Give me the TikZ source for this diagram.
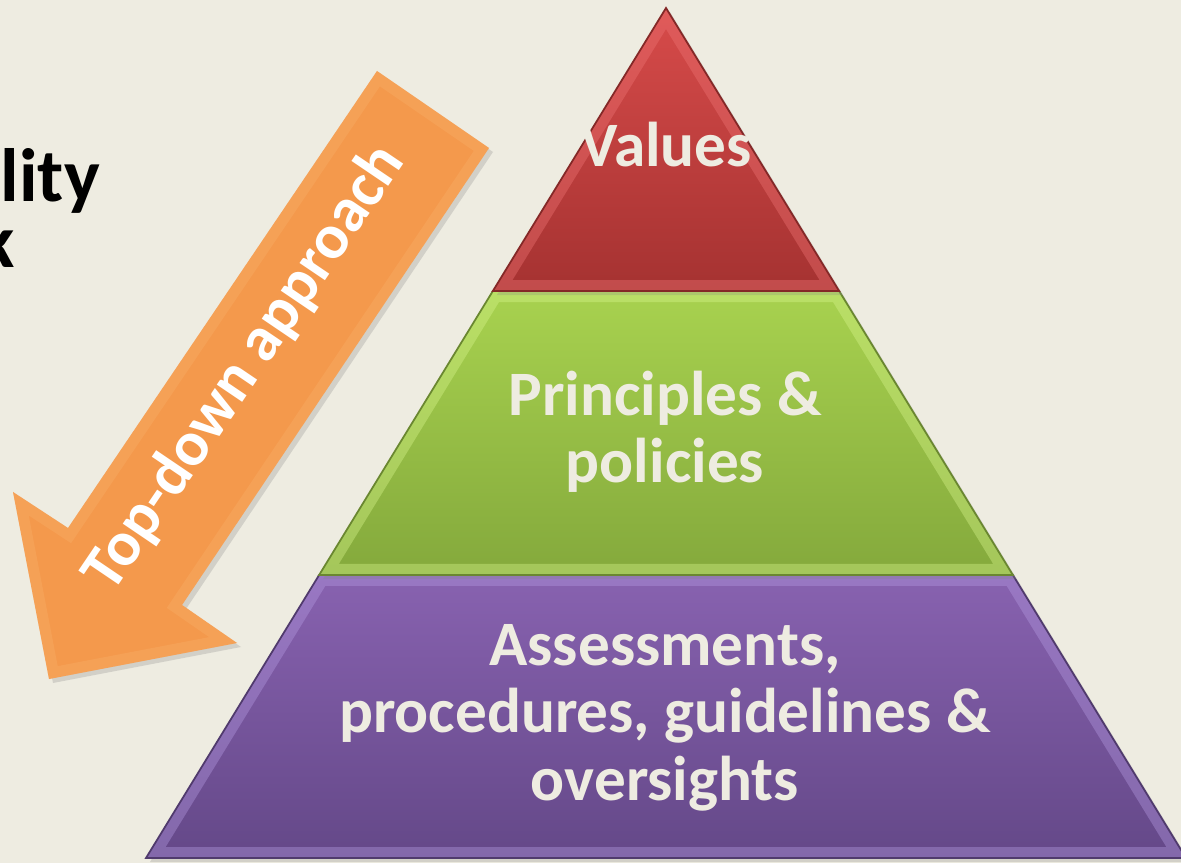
\documentclass[tikz,border=0pt]{standalone}
\usepackage{fontspec}
\setmainfont{Carlito}
\usepackage{tikz}
\usetikzlibrary{calc,shadows}

\definecolor{bgcol}{HTML}{EEECE1}
\definecolor{labelcol}{HTML}{EEECE1}
\definecolor{redtop}{HTML}{D74B4A}
\definecolor{redbot}{HTML}{A53231}
\definecolor{redrim}{HTML}{EE7373}
\definecolor{greentop}{HTML}{A8D24F}
\definecolor{greenbot}{HTML}{84A93C}
\definecolor{greenrim}{HTML}{D6F48A}
\definecolor{purpletop}{HTML}{8862B0}
\definecolor{purplebot}{HTML}{644888}
\definecolor{purplerim}{HTML}{B399E0}
\definecolor{arrowcol}{HTML}{F4994C}
\definecolor{arrowrim}{HTML}{FBB977}

\tikzset{
  rim/.style={line width=0.22cm, draw=#1, opacity=0.4, line join=miter},
  tieredge/.style={draw=#1, line width=0.5pt},
  tierlabel/.style={text=labelcol, font=\bfseries\fontsize{18}{19.2}\selectfont,
    align=center, inner sep=0pt},
  softshadow/.style={drop shadow={shadow xshift=0.04cm, shadow yshift=-0.04cm, opacity=0.25}}
}

% one tier of the pyramid: path, top colour, bottom colour, rim colour
\newcommand{\tier}[4]{
  \shade[top color=#2, bottom color=#3, softshadow] #1;
  \begin{scope}
    \clip #1;
    \draw[rim=#4] #1;
  \end{scope}
  \draw[tieredge=#3!80!black] #1;
}

\begin{document}
\begin{tikzpicture}
    \fill[bgcol] (0,0) rectangle (11.81,8.63);
    \useasboundingbox (0,0) rectangle (11.81,8.63);

    \coordinate (apex) at (6.66,8.55);
    \coordinate (bl) at (1.46,0.05);
    \coordinate (br) at (11.86,0.05);
    \coordinate (l1) at ($(apex)!0.333!(bl)$);
    \coordinate (r1) at ($(apex)!0.333!(br)$);
    \coordinate (l2) at ($(apex)!0.667!(bl)$);
    \coordinate (r2) at ($(apex)!0.667!(br)$);

    \tier{(l2) -- (bl) -- (br) -- (r2) -- cycle}{purpletop}{purplebot}{purplerim}
    \tier{(l1) -- (l2) -- (r2) -- (r1) -- cycle}{greentop}{greenbot}{greenrim}
    \tier{(apex) -- (l1) -- (r1) -- cycle}{redtop}{redbot}{redrim}

    % base anchor sits on the last line
    \node[tierlabel, anchor=base] (values) at (6.66,6.96) {Values};
    \node[tierlabel, anchor=base] (principles) at (6.65,3.80) {Principles \&\\policies};
    \node[tierlabel, anchor=base] (assessments) at (6.65,0.63)
        {Assessments,\\procedures, guidelines \&\\oversights};

    % arrow
    \coordinate (t1) at (3.77,7.92);
    \coordinate (t2) at (4.89,7.15);
    \coordinate (nr) at (1.82,2.58);
    \coordinate (wr) at (2.37,2.20);
    \coordinate (tip) at (0.49,1.84);
    \coordinate (wl) at (0.13,3.71);
    \coordinate (nl) at (0.68,3.35);
    \fill[arrowcol, softshadow] (t1) -- (t2) -- (nr) -- (wr) -- (tip) -- (wl) -- (nl) -- cycle;
    \begin{scope}
        \clip (t1) -- (t2) -- (nr) -- (wr) -- (tip) -- (wl) -- (nl) -- cycle;
        \draw[rim=arrowrim, opacity=0.25] (t1) -- (t2) -- (nr) -- (wr) -- (tip) -- (wl) -- (nl) -- cycle;
    \end{scope}
    \node[rotate=55.9, text=white, inner sep=0pt,
        font=\bfseries\fontsize{18}{20}\selectfont] (topdown) at (2.45,4.95) {Top-down approach};

    % title cut at the left edge
    \node[anchor=base west, inner sep=0pt, font=\bfseries\fontsize{21.5}{23}\selectfont] (title) at (0,6.61) {lity};
    \node[anchor=base east, inner sep=0pt, font=\bfseries\fontsize{21.5}{23}\selectfont] (titlek) at (0.15,5.95) {k};
\end{tikzpicture}
\end{document}
